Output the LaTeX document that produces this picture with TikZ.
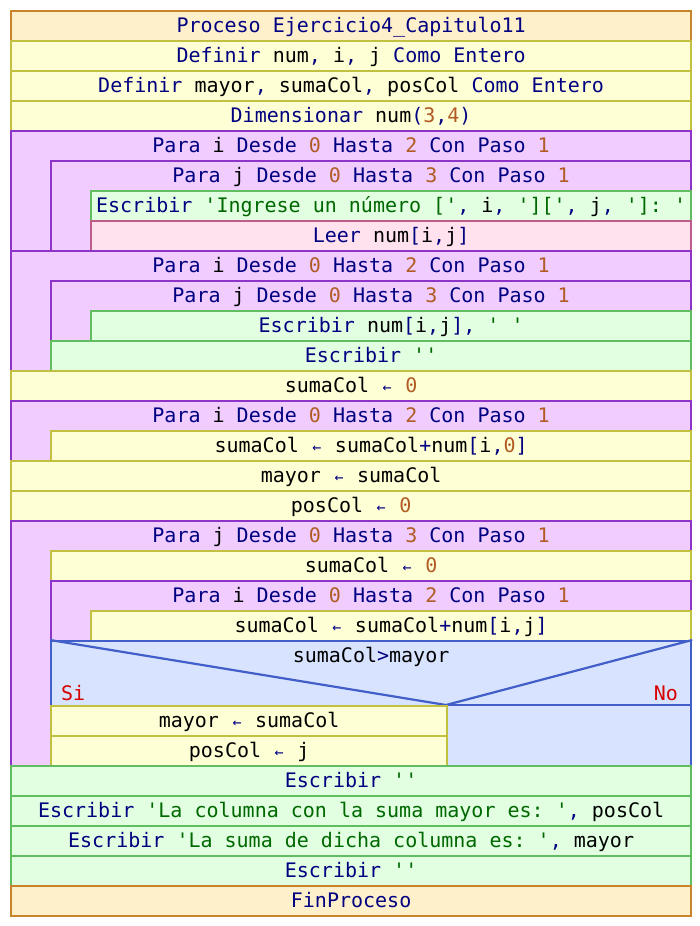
\documentclass[tikz,border=0pt]{standalone}
\usepackage{fontspec}
\setmonofont{DejaVu Sans Mono}
\definecolor{procfill}{RGB}{255,240,204}
\definecolor{procline}{RGB}{200,132,42}
\definecolor{defnfill}{RGB}{255,255,214}
\definecolor{defnline}{RGB}{194,192,64}
\definecolor{loopfill}{RGB}{240,204,255}
\definecolor{loopline}{RGB}{142,52,200}
\definecolor{outfill}{RGB}{226,255,226}
\definecolor{outline}{RGB}{96,190,96}
\definecolor{infill}{RGB}{255,226,238}
\definecolor{inline}{RGB}{190,92,140}
\definecolor{condfill}{RGB}{216,228,255}
\definecolor{condline}{RGB}{66,94,200}
\definecolor{kwcol}{RGB}{0,0,128}
\definecolor{numcol}{RGB}{176,92,36}
\definecolor{strcol}{RGB}{0,104,0}
\definecolor{branchcol}{RGB}{214,0,0}
% token colouring
\newcommand{\cid}[1]{\textcolor{black}{#1}}
\newcommand{\cnum}[1]{\textcolor{numcol}{#1}}
\newcommand{\cstr}[1]{\textcolor{strcol}{#1}}
\newcommand{\arr}{\makebox[12.04pt]{\fontsize{15}{15}\selectfont ←}}
\begin{document}
\begin{tikzpicture}[x=1pt,y=-1pt,
  cell/.style={rectangle, inner sep=0pt, anchor=north west, minimum height=30pt,
    text height=15pt, text depth=3pt, text=kwcol, line width=2.2pt,
    font=\ttfamily\fontsize{20}{24}\selectfont},
  head/.style={cell, anchor=north},
  proc/.style={cell, fill=procfill, draw=procline},
  defn/.style={cell, fill=defnfill, draw=defnline},
  loopbox/.style={cell, fill=loopfill, draw=loopline},
  outbox/.style={cell, fill=outfill, draw=outline},
  inbox/.style={cell, fill=infill, draw=inline},
  condbox/.style={cell, fill=condfill, draw=condline},
  branch/.style={cell, text=branchcol, minimum height=0pt},
  splitline/.style={draw=condline, line width=2.2pt}
]
\useasboundingbox (0,0) rectangle (700,926);
\fill[white] (0,0) rectangle (700,926);

% header and declarations
\node[proc, minimum width=680pt] (p0) at (10,10) {Proceso Ejercicio4\_Capitulo11};
\node[defn, minimum width=680pt] (d1) at (10,40) {Definir \cid{num}, \cid{i}, \cid{j} Como Entero};
\node[defn, minimum width=680pt] (d2) at (10,70) {Definir \cid{mayor}, \cid{sumaCol}, \cid{posCol} Como Entero};
\node[defn, minimum width=680pt] (d3) at (10,100) {Dimensionar \cid{num}(\cnum{3},\cnum{4})};

% reading loop
\node[loopbox, minimum width=680pt, minimum height=120pt] (la) at (10,130) {};
\node[head, minimum width=680pt] (lah) at (la.north) {Para \cid{i} Desde \cnum{0} Hasta \cnum{2} Con Paso \cnum{1}};
\node[loopbox, minimum width=640pt, minimum height=90pt] (lb) at (50,160) {};
\node[head, minimum width=640pt] (lbh) at (lb.north) {Para \cid{j} Desde \cnum{0} Hasta \cnum{3} Con Paso \cnum{1}};
\node[outbox, minimum width=600pt] (w1) at (90,190) {Escribir \cstr{'Ingrese un número ['}, \cid{i}, \cstr{']['}, \cid{j}, \cstr{']: '}};
\node[inbox, minimum width=600pt] (r1) at (90,220) {Leer \cid{num}[\cid{i},\cid{j}]};

% printing loop
\node[loopbox, minimum width=680pt, minimum height=120pt] (lc) at (10,250) {};
\node[head, minimum width=680pt] (lch) at (lc.north) {Para \cid{i} Desde \cnum{0} Hasta \cnum{2} Con Paso \cnum{1}};
\node[loopbox, minimum width=640pt, minimum height=60pt] (ld) at (50,280) {};
\node[head, minimum width=640pt] (ldh) at (ld.north) {Para \cid{j} Desde \cnum{0} Hasta \cnum{3} Con Paso \cnum{1}};
\node[outbox, minimum width=600pt] (w2) at (90,310) {Escribir \cid{num}[\cid{i},\cid{j}], \cstr{' '}};
\node[outbox, minimum width=640pt] (w3) at (50,340) {Escribir \cstr{''}};

% first column sum
\node[defn, minimum width=680pt] (a1) at (10,370) {\cid{sumaCol} \arr{} \cnum{0}};
\node[loopbox, minimum width=680pt, minimum height=60pt] (le) at (10,400) {};
\node[head, minimum width=680pt] (leh) at (le.north) {Para \cid{i} Desde \cnum{0} Hasta \cnum{2} Con Paso \cnum{1}};
\node[defn, minimum width=640pt] (a2) at (50,430) {\cid{sumaCol} \arr{} \cid{sumaCol}+\cid{num}[\cid{i},\cnum{0}]};
\node[defn, minimum width=680pt] (a3) at (10,460) {\cid{mayor} \arr{} \cid{sumaCol}};
\node[defn, minimum width=680pt] (a4) at (10,490) {\cid{posCol} \arr{} \cnum{0}};

% search for the largest column sum
\node[loopbox, minimum width=680pt, minimum height=245pt] (lf) at (10,520) {};
\node[head, minimum width=680pt] (lfh) at (lf.north) {Para \cid{j} Desde \cnum{0} Hasta \cnum{3} Con Paso \cnum{1}};
\node[defn, minimum width=640pt] (a5) at (50,550) {\cid{sumaCol} \arr{} \cnum{0}};
\node[loopbox, minimum width=640pt, minimum height=60pt] (lg) at (50,580) {};
\node[head, minimum width=640pt] (lgh) at (lg.north) {Para \cid{i} Desde \cnum{0} Hasta \cnum{2} Con Paso \cnum{1}};
\node[defn, minimum width=600pt] (a6) at (90,610) {\cid{sumaCol} \arr{} \cid{sumaCol}+\cid{num}[\cid{i},\cid{j}]};

% decision
\node[condbox, minimum width=640pt, minimum height=125pt] (cb) at (50,640) {};
\node[head, minimum width=640pt] (ct) at (cb.north) {\cid{sumaCol}>\cid{mayor}};
\coordinate (split) at (446,705);
\coordinate (splitr) at (690,705);
\path[splitline] (cb.north west) -- (split) -- (cb.north east);
\path[splitline] (split) -- (splitr);
\node[branch, anchor=base west] (si) at (60,700) {Si};
\node[branch, anchor=base east] (no) at (679,700) {No};
\node[defn, minimum width=396pt] (a7) at (50,705) {\cid{mayor} \arr{} \cid{sumaCol}};
\node[defn, minimum width=396pt] (a8) at (50,735) {\cid{posCol} \arr{} \cid{j}};

% results
\node[outbox, minimum width=680pt] (w4) at (10,765) {Escribir \cstr{''}};
\node[outbox, minimum width=680pt] (w5) at (10,795) {Escribir \cstr{'La columna con la suma mayor es: '}, \cid{posCol}};
\node[outbox, minimum width=680pt] (w6) at (10,825) {Escribir \cstr{'La suma de dicha columna es: '}, \cid{mayor}};
\node[outbox, minimum width=680pt] (w7) at (10,855) {Escribir \cstr{''}};
\node[proc, minimum width=680pt] (p1) at (10,885) {FinProceso};
\end{tikzpicture}
\end{document}
